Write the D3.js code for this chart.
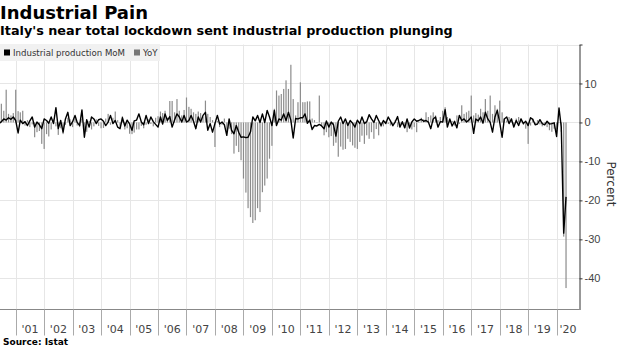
<!DOCTYPE html>
<html>

<head>
  <meta charset="utf-8">
  <title>Industrial Pain</title>
  <script src="https://d3js.org/d3.v7.min.js" charset="utf-8"></script>
  <style>
    body {
      margin: 0;
      background: #fff;
    }

    svg {
      display: block;
      font-family: "DejaVu Sans", Verdana, sans-serif;
    }

    .title {
      font-weight: bold;
      font-size: 18px;
      fill: #000;
    }

    .subtitle {
      font-weight: bold;
      font-size: 12.8px;
      fill: #000;
    }

    .legend text {
      font-size: 8.6px;
      fill: #333;
    }

    .grid line {
      stroke: #e6e6e6;
      stroke-width: 1px;
    }

    .bar {
      fill: #8c8c8c;
    }

    .mom {
      fill: none;
      stroke: #000;
      stroke-width: 1.4px;
      stroke-linejoin: round;
    }

    .axis text {
      font-size: 11px;
      fill: #444;
    }

    .source {
      font-weight: bold;
      font-size: 9px;
      fill: #000;
    }
  </style>
</head>

<body>
  <svg></svg>

  <script>
    //begin: data (monthly, first value = May 2000)
    var firstMonth = [2000, 4];

    // industrial production, % change year on year
    var yoyChange = [
      1.5, 4.8, 3.0, 8.4, 2.2, 1.8, 2.4, 8.4,
      2.9, 2.6, 3.0, -0.8, 0.6, -1.2, -0.5, -3.8, -2.5, -2.2, -5.5, -6.8,
      -3.0, -3.6, -1.8, 0.8, -1.0, -3.2, -1.5, -3.0, -0.6, 1.2, 0.8, -1.2,
      1.0, -0.8, -1.2, 0.9, -2.0, -2.4, 0.4, -1.8, -1.0, 0.8, -0.9, -1.5,
      -1.4, 1.0, 2.2, -0.6, 1.2, 2.8, 0.6, -1.2, 1.6, -1.8, -1.5, -2.9,
      -3.0, -2.6, -1.8, -1.8, -0.9, -1.5, -0.6, 0.8, -0.4, -1.0, 1.2, 1.6,
      2.8, 2.4, 3.0, 1.2, 5.5, 5.5, 2.6, 6.0, 3.0, 1.8, 3.2, 6.4,
      4.0, 3.5, 2.6, 2.2, 2.8, 2.4, 1.4, 5.6, 2.2, 1.4, 0.6, -6.3,
      0.4, -1.2, -0.6, 1.0, -2.4, -1.6, -3.0, -8.0, -6.0, -7.6, -9.7, -14.4,
      -18.0, -22.0, -24.3, -25.8, -25.1, -22.0, -23.0, -17.9, -16.2, -14.4, -9.3, -6.0,
      3.5, 8.2, 6.9, 7.3, 8.6, 10.8, 8.6, 14.8, 6.0, 1.8, 5.2, 10.3,
      5.2, 5.2, 5.4, 5.4, 1.0, 0.6, 0.1, 6.9, -0.8, -3.3, -2.5, -3.8,
      -3.5, -6.0, -5.2, -8.8, -6.2, -7.0, -6.8, -4.2, -5.0, -5.9, -6.5, -6.8,
      -5.0, -3.4, -5.5, -3.3, -4.2, -2.5, -4.2, -1.7, -3.3, -1.2, -1.0, 0.4,
      -0.4, -0.8, -1.0, 0.6, -1.2, -0.8, -0.6, -1.4, -2.5, -1.6, -1.8, -1.2,
      -2.5, 0.2, 1.2, 0.8, 2.6, 1.4, 1.8, 2.6, 1.8, 0.6, 1.4, 3.0,
      3.9, 1.4, 0.6, 0.4, -0.8, 1.8, -0.4, 4.4, 2.2, 2.6, 3.0, 6.9,
      1.8, 2.4, 2.0, 3.5, 2.6, 6.0, 3.0, 6.9, 2.2, 4.4, 3.5, 5.6,
      2.6, 1.0, 0.5, 1.4, 1.0, -1.2, 1.0, 1.4, 1.0, -0.6, -1.6, -5.5,
      -0.8, 1.0, -0.3, 0.6, -0.5, -1.0, -0.3, -1.2, -2.0, -2.4, -1.6, -2.8,
      -0.1, -2.4, -29.3, -42.5
    ];

    // industrial production, % change month on month
    var momChange = [
      -0.3, 0.2, 0.9, 0.6, 1.2, 0.8, 1.4, 0.5,
      -2.7, 0.6, -0.3, 0.2, -0.8, 0.4, 1.4, -1.2, 0.1, -0.6, -1.6, 0.9,
      0.5, -0.2, 1.4, -0.3, 3.8, -1.6, 0.5, -2.5, 0.9, 2.6, -0.8, 0.2,
      1.8, 0.0, -0.8, 3.2, -3.8, 0.7, -1.2, 1.4, 0.9, -0.3, 0.7, 0.9,
      0.3, -0.8, 0.1, 1.8, -0.3, 0.5, -1.2, -1.6, 1.2, -0.9, 0.6, -0.4,
      -2.0, 0.4, 0.6, 2.2, 0.1, -0.6, 1.8, -0.3, 1.4, 0.2, -0.5, -1.2,
      1.4, -0.4, 2.2, 0.5, 1.5, -1.2, 0.6, 2.2, 1.4, 0.1, 1.8, 0.1,
      0.5, 1.8, 0.3, -1.6, 1.4, 0.1, 1.8, 2.6, -2.0, -0.3, -2.5, -0.3,
      1.8, -0.4, 0.1, -0.6, -3.3, 0.9, -2.0, -2.9, -0.8, -2.5, -3.8, -3.7,
      -3.9, -3.8, -2.4, 1.4, 0.4, 1.8, 0.0, 2.2, 0.0, 3.1, 1.4, -0.8,
      3.1, -0.8, 0.9, 0.6, 2.2, 0.5, 2.6, 0.6, -4.0, 1.0, 0.9, 1.2,
      1.2, 2.2, -0.2, 0.6, -1.8, -0.8, -0.9, -0.5, -0.9, -1.6, 0.4, -1.2,
      0.1, -0.6, -3.5, 0.3, 1.4, -0.3, 0.9, -0.8, 0.5, -0.2, -1.2, 0.6,
      -0.3, 1.4, -0.3, 0.2, 2.0, 0.9, 0.0, 1.8, 0.5, -0.8, 0.5, -0.3,
      1.4, 0.4, -0.8, 0.1, 1.5, -1.2, 0.2, -1.4, 0.9, -1.4, 0.1, 0.9,
      0.3, 0.5, 0.8, 0.3, 0.5, 0.1, -1.6, 0.9, 1.4, -1.2, 0.2, 0.1,
      3.3, -1.2, 0.9, -0.9, 0.3, -1.4, 1.8, 0.5, 0.9, 0.1, 0.6, 1.4,
      -2.8, 0.9, 0.4, 1.4, -0.2, 2.6, 0.9, 0.0, -2.5, 1.4, 3.1, 0.0,
      -3.8, 0.9, 1.4, -0.3, 0.9, -1.2, 0.5, -0.8, 0.9, -0.3, 0.3, -0.8,
      1.2, 0.8, -0.6, -0.4, 0.7, -0.3, -0.6, 0.3, -0.4, -0.3, -0.1, -3.6,
      3.7, -1.2, -28.4, -19.1
    ];

    var yearLabels = ["'01", "'02", "'03", "'04", "'05", "'06", "'07", "'08", "'09", "'10",
      "'11", "'12", "'13", "'14", "'15", "'16", "'17", "'18", "'19", "'20"];
    var yTicks = [20, 10, 0, -10, -20, -30, -40];
    var legendItems = [
      { name: "Industrial production MoM", color: "#000" },
      { name: "YoY", color: "#777" }
    ];
    //end: data

    //begin: layout conf.
    var svgWidth = 620,
      svgHeight = 348,
      plotLeft = 0,
      plotRight = 579.5,
      plotTop = 44.5,
      plotBottom = 309.5,
      tickDown = 26;
    //end: layout conf.

    // each value is plotted at the end of its month
    var points = yoyChange.map(function (v, i) {
      return {
        date: new Date(firstMonth[0], firstMonth[1] + i + 1, 1),
        yoy: v,
        mom: momChange[i]
      };
    });

    var x = d3.scaleTime()
      .domain([new Date(2001, 0, 1), new Date(2020, 0, 1)])
      .range([15.7, 556.6]);

    var y = d3.scaleLinear()
      .domain([20, -48])
      .range([plotTop, plotBottom]);

    var yearStarts = yearLabels.map(function (d, i) { return new Date(2001 + i, 0, 1); });

    var svg = d3.select("svg")
      .attr("width", svgWidth)
      .attr("height", svgHeight);

    svg.append("defs").append("clipPath")
      .attr("id", "plot-clip")
      .append("rect")
      .attr("x", plotLeft)
      .attr("y", 0)
      .attr("width", plotRight - plotLeft)
      .attr("height", svgHeight);

    drawTitles();
    drawGrid();
    drawLegend();
    drawSeries();
    drawAxes();

    function drawTitles() {
      svg.append("text")
        .classed("title", true)
        .attr("x", 0)
        .attr("y", 19)
        .text("Industrial Pain");

      svg.append("text")
        .classed("subtitle", true)
        .attr("x", 0)
        .attr("y", 35)
        .text("Italy's near total lockdown sent industrial production plunging");

      svg.append("text")
        .classed("source", true)
        .attr("x", 3)
        .attr("y", 345)
        .text("Source: Istat");
    }

    function drawGrid() {
      var grid = svg.append("g").classed("grid", true);

      grid.selectAll(".h")
        .data(yTicks)
        .enter()
        .append("line")
        .attr("x1", plotLeft)
        .attr("x2", plotRight)
        .attr("y1", function (d) { return Math.round(y(d)) + 0.5; })
        .attr("y2", function (d) { return Math.round(y(d)) + 0.5; });

      grid.selectAll(".v")
        .data(yearStarts)
        .enter()
        .append("line")
        .attr("x1", function (d) { return Math.round(x(d)) + 0.5; })
        .attr("x2", function (d) { return Math.round(x(d)) + 0.5; })
        .attr("y1", plotTop)
        .attr("y2", plotBottom);
    }

    function drawLegend() {
      var legend = svg.append("g").classed("legend", true);

      legend.append("rect")
        .attr("x", 0)
        .attr("y", 44)
        .attr("width", 160)
        .attr("height", 17)
        .style("fill", "#f1f1f1");

      var xPos = 4;
      legendItems.forEach(function (item) {
        legend.append("rect")
          .attr("x", xPos)
          .attr("y", 49.5)
          .attr("width", 6)
          .attr("height", 6)
          .style("fill", item.color);
        var t = legend.append("text")
          .attr("x", xPos + 9)
          .attr("y", 56)
          .text(item.name);
        xPos += 9 + t.node().getComputedTextLength() + 9;
      });
    }

    function drawSeries() {
      var series = svg.append("g").attr("clip-path", "url(#plot-clip)");

      series.selectAll(".bar")
        .data(points)
        .enter()
        .append("rect")
        .classed("bar", true)
        .attr("x", function (d) { return x(d.date) - 0.6; })
        .attr("width", 1.2)
        .attr("y", function (d) { return Math.min(y(d.yoy), y(0)); })
        .attr("height", function (d) { return Math.abs(y(d.yoy) - y(0)); });

      var line = d3.line()
        .x(function (d) { return x(d.date); })
        .y(function (d) { return y(d.mom); });

      series.append("path")
        .datum(points)
        .classed("mom", true)
        .attr("d", line);
    }

    function drawAxes() {
      // right value axis
      var yAxis = d3.axisRight(y)
        .tickValues(yTicks)
        .tickSize(3)
        .tickSizeOuter(0)
        .tickPadding(2)
        .tickFormat(function (d) { return d === 20 ? "" : String(d); });

      var yg = svg.append("g")
        .classed("axis", true)
        .attr("transform", "translate(" + plotRight + ",0)")
        .call(yAxis);
      yg.select(".domain").style("stroke", "#333");
      yg.selectAll(".tick line").style("stroke", "#333");

      svg.append("text")
        .attr("transform", "translate(" + [607, 184] + ") rotate(90)")
        .attr("text-anchor", "middle")
        .style("font-size", "12px")
        .style("fill", "#333")
        .text("Percent");

      // bottom time axis
      var xg = svg.append("g").classed("axis", true);

      xg.append("line")
        .attr("x1", plotLeft)
        .attr("x2", plotRight)
        .attr("y1", plotBottom)
        .attr("y2", plotBottom)
        .style("stroke", "#888");

      xg.selectAll(".xtick")
        .data(yearStarts)
        .enter()
        .append("line")
        .attr("x1", function (d) { return Math.round(x(d)) + 0.5; })
        .attr("x2", function (d) { return Math.round(x(d)) + 0.5; })
        .attr("y1", plotBottom)
        .attr("y2", plotBottom + tickDown)
        .style("stroke", "#aaa");

      xg.selectAll(".xlabel")
        .data(yearLabels)
        .enter()
        .append("text")
        .attr("text-anchor", "middle")
        .attr("y", 333)
        .attr("x", function (d, i) {
          var a = Math.max(x(yearStarts[i]), plotLeft),
            b = Math.min(x(new Date(2002 + i, 0, 1)), plotRight);
          return (a + b) / 2;
        })
        .text(function (d) { return d; });
    }
  </script>
</body>

</html>
